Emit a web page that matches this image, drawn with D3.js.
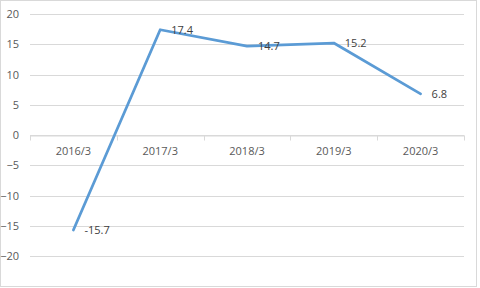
<!DOCTYPE html>
<html lang="en">
<head>
<meta charset="UTF-8">
<title>Chart</title>
<script src="https://cdn.jsdelivr.net/npm/d3@7"></script>
<style>
    body { margin: 0; background: #fff; }
    #container { width: 480px; height: 288px; }
    text { font-family: "Open Sans", "Liberation Sans", sans-serif; }
</style>
</head>
<body>
<div id="container"></div>
<script>
    var categories = ["2016/3", "2017/3", "2018/3", "2019/3", "2020/3"];
    var values = [-15.7, 17.4, 14.7, 15.2, 6.8];
    var yTicks = [-20, -15, -10, -5, 0, 5, 10, 15, 20];

    var width = 480, height = 288;
    var margin = { left: 30, top: 14, right: 16, bottom: 32 };
    var gWidth = width - margin.left - margin.right;
    var gHeight = height - margin.top - margin.bottom;

    var svg = d3.select("#container")
        .append("svg")
        .attr("width", width)
        .attr("height", height);

    // chart border
    svg.append("rect")
        .attr("x", 0.5).attr("y", 0.5)
        .attr("width", 476).attr("height", 286)
        .attr("fill", "#fff")
        .attr("stroke", "#d9d9d9");

    var g = svg.append("g")
        .attr("transform", "translate(" + margin.left + "," + margin.top + ")");

    var x = d3.scaleBand().domain(categories).range([0, gWidth]);
    var y = d3.scaleLinear().domain([-20, 20]).range([gHeight, 0]);

    // gridlines
    g.selectAll(".grid")
        .data(yTicks)
        .enter()
        .append("line")
        .attr("x1", 0).attr("x2", gWidth)
        .attr("y1", function (d) { return Math.round(y(d)) + 0.5; })
        .attr("y2", function (d) { return Math.round(y(d)) + 0.5; })
        .attr("stroke", "#d9d9d9");

    // y axis labels
    var yAxis = d3.axisLeft(y).tickValues(yTicks).tickSize(0).tickPadding(11);
    var ya = g.append("g").call(yAxis);
    ya.select(".domain").remove();
    ya.selectAll("text").attr("fill", "#595959").attr("font-size", "11px");

    // x axis at zero
    var xAxis = d3.axisBottom(x).tickSize(0).tickPadding(12);
    var xa = g.append("g")
        .attr("transform", "translate(0," + (Math.round(y(0)) + 0.5) + ")")
        .call(xAxis);
    xa.select(".domain").attr("stroke", "#d9d9d9");
    xa.selectAll("text").attr("fill", "#595959").attr("font-size", "11px");

    // boundary tick marks
    var bounds = d3.range(categories.length + 1).map(function (i) { return i * x.step(); });
    xa.selectAll(".btick")
        .data(bounds)
        .enter()
        .append("line")
        .attr("x1", function (d) { return Math.round(d) + 0.5; })
        .attr("x2", function (d) { return Math.round(d) + 0.5; })
        .attr("y1", 0).attr("y2", 5)
        .attr("stroke", "#d9d9d9");

    // line
    var line = d3.line()
        .x(function (d, i) { return x(categories[i]) + x.bandwidth() / 2; })
        .y(function (d) { return y(d); });

    g.append("path")
        .datum(values)
        .attr("d", line)
        .attr("fill", "none")
        .attr("stroke", "#5b9bd5")
        .attr("stroke-width", 2.75)
        .attr("stroke-linejoin", "round")
        .attr("stroke-linecap", "round");

    // data labels
    g.selectAll(".lbl")
        .data(values)
        .enter()
        .append("text")
        .text(function (d) { return d; })
        .attr("x", function (d, i) { return x(categories[i]) + x.bandwidth() / 2 + 11; })
        .attr("y", function (d) { return y(d); })
        .attr("dy", "0.35em")
        .attr("font-size", "11px")
        .attr("fill", "#404040");
</script>
</body>
</html>
